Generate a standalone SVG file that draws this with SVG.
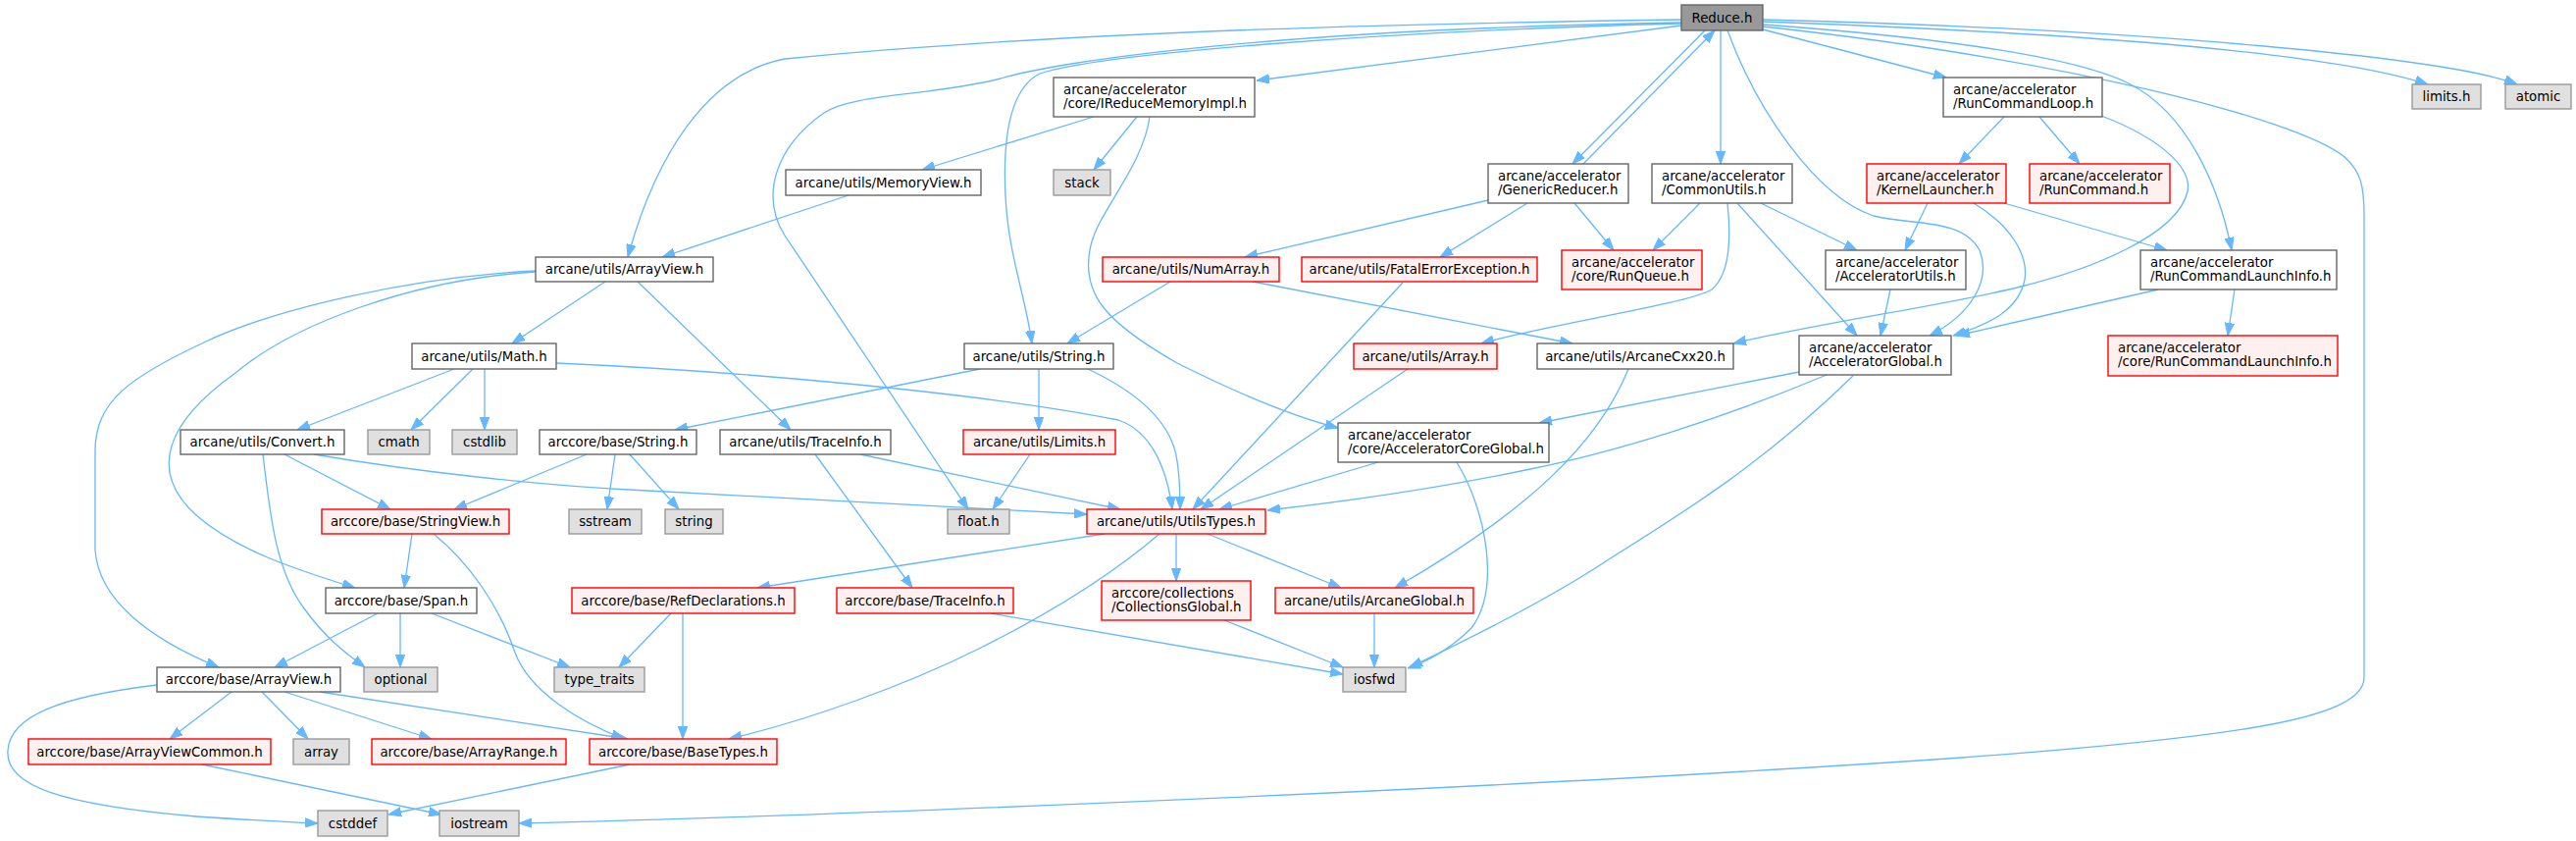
<svg xmlns="http://www.w3.org/2000/svg" width="2626" height="857" viewBox="0 0 2626 857">
<defs>
<style>
text{font-family:"DejaVu Sans","Liberation Sans",sans-serif;font-size:13.33px;fill:#000}
.c{text-anchor:middle}
.n rect{fill:#fff;stroke:#666;stroke-width:1.4}
.r rect{fill:#fff0f0;stroke:#f00;stroke-width:1.4}
.g rect{fill:#e0e0e0;stroke:#999;stroke-width:1.4}
.root rect{fill:#999;stroke:#666;stroke-width:1.4}
#edges path{fill:none;stroke:#63b8ff;stroke-width:1.3;marker-end:url(#ah)}
</style>
<marker id="ah" viewBox="0 0 13 10" refX="13" refY="5" markerWidth="13" markerHeight="10" markerUnits="userSpaceOnUse" orient="auto"><path d="M0,0.3 L13,5 L0,9.7z" fill="#63b8ff" stroke="#63b8ff" stroke-width="1"/></marker>
</defs>
<rect width="2626" height="857" fill="#fff"/>
<g id="edges">
<path d="M1714,20 C1500,23 1100,30 800,60 C720,75 668,160 640,262"/>
<path d="M1714,26 L1281,82"/>
<path d="M1714,23 C1300,30 1080,62 1020,80 C950,98 870,95 840,115 C790,150 775,200 800,240 L987,519"/>
<path d="M1714,24 C1400,32 1120,55 1060,75 C1030,90 1022,140 1025,200 C1028,260 1045,300 1052,350"/>
<path d="M1797,27 C2100,60 2340,120 2390,160 C2407,175 2410,190 2410,220 L2410,690 C2410,730 2300,750 2000,772 C1600,800 900,830 529,839"/>
<path d="M1797,30 L1984,79"/>
<path d="M1797,22 C2150,35 2380,55 2475,86"/>
<path d="M1797,20 C2200,30 2500,60 2566,86"/>
<path d="M1797,25 C2000,40 2120,60 2170,85 C2230,115 2262,190 2275,255"/>
<path d="M1761,31 C1790,110 1850,200 1910,220 C1950,230 2000,222 2018,255 C2030,285 2010,320 1967,342"/>
<path d="M1738,31 L1603,167"/>
<path d="M1614,167 L1748,31"/>
<path d="M1754,31 L1754,167"/>
<path d="M1115,119 L940,173"/>
<path d="M1159,119 L1115,173"/>
<path d="M1172,119 C1165,170 1120,215 1112,250 C1100,300 1130,330 1200,370 C1260,400 1320,425 1364,436"/>
<path d="M865,199 L675,262"/>
<path d="M2043,119 L1997,167"/>
<path d="M2079,119 L2120,167"/>
<path d="M2142,118 C2200,140 2235,170 2230,195 C2220,240 2130,275 2060,292 C2000,308 1850,330 1767,350"/>
<path d="M1965,207 L1942,255"/>
<path d="M2043,207 L2209,255"/>
<path d="M2012,207 C2050,230 2068,260 2064,285 C2058,315 2030,330 1991,342"/>
<path d="M1795,207 L1893,255"/>
<path d="M1733,207 L1685,255"/>
<path d="M1771,207 L1893,342"/>
<path d="M1761,207 C1765,245 1763,280 1745,295 C1720,310 1580,330 1510,350"/>
<path d="M1517,204 L1269,262"/>
<path d="M1557,207 L1468,262"/>
<path d="M1605,207 L1645,255"/>
<path d="M2278,295 L2271,342"/>
<path d="M2200,295 L1995,342"/>
<path d="M1193,287 L1088,350"/>
<path d="M1277,287 L1603,350"/>
<path d="M1430,288 L1216,519"/>
<path d="M1927,295 L1917,342"/>
<path d="M617,287 L522,350"/>
<path d="M650,287 L806,438"/>
<path d="M546,277 C420,285 300,330 240,380 C170,430 150,480 200,525 C240,560 300,580 362,599"/>
<path d="M546,276 C420,282 280,315 210,348 C130,385 97,410 97,460 L97,560 C100,610 150,650 223,680"/>
<path d="M463,376 L303,438"/>
<path d="M482,376 L419,438"/>
<path d="M494,376 L494,438"/>
<path d="M567,370 C750,378 1000,400 1140,428 C1175,440 1190,480 1195,519"/>
<path d="M999,376 L688,438"/>
<path d="M1059,376 L1059,438"/>
<path d="M1109,376 C1160,400 1195,430 1200,470 C1203,490 1203,505 1203,519"/>
<path d="M1435,376 L1224,519"/>
<path d="M1660,376 C1630,450 1560,520 1422,599"/>
<path d="M1834,379 L1569,431"/>
<path d="M1862,382 C1760,425 1650,460 1560,478 C1480,495 1380,510 1292,520"/>
<path d="M1889,383 C1800,470 1720,520 1640,570 C1580,610 1500,650 1437,680"/>
<path d="M1405,471 L1243,519"/>
<path d="M1485,471 C1515,520 1530,600 1500,640 C1480,660 1460,672 1435,681"/>
<path d="M290,463 L398,519"/>
<path d="M268,463 C275,520 280,580 310,620 C330,648 350,664 372,680"/>
<path d="M320,463 C420,480 550,495 660,500 C800,508 950,516 1108,524"/>
<path d="M598,463 L463,519"/>
<path d="M627,463 L619,519"/>
<path d="M642,463 L692,519"/>
<path d="M877,463 L1142,519"/>
<path d="M831,463 L930,599"/>
<path d="M1050,463 L1012,519"/>
<path d="M420,544 L412,599"/>
<path d="M442,544 C480,575 510,620 525,665 C540,705 590,735 636,753"/>
<path d="M1126,544 L772,599"/>
<path d="M1199,544 L1199,592"/>
<path d="M1231,544 L1367,599"/>
<path d="M1182,544 C1140,580 1080,620 1000,660 C920,700 820,735 743,753"/>
<path d="M684,625 L631,680"/>
<path d="M696,625 L696,753"/>
<path d="M1010,625 L1369,687"/>
<path d="M1248,632 L1369,680"/>
<path d="M1401,625 L1401,680"/>
<path d="M385,625 L280,680"/>
<path d="M408,625 L408,680"/>
<path d="M440,625 L581,680"/>
<path d="M236,705 L173,753"/>
<path d="M267,705 L314,753"/>
<path d="M290,705 L440,753"/>
<path d="M326,705 L640,753"/>
<path d="M160,698 C60,710 10,730 8,765 C5,800 60,820 200,832 C260,836 300,838 324,839"/>
<path d="M206,779 L450,830"/>
<path d="M642,779 L396,830"/>
</g>
<g id="n_reduce" class="root"><rect x="1714" y="5" width="83" height="26"/><text class="c" x="1755.5" y="22.5">Reduce.h</text></g>
<g id="n_ireduce" class="n"><rect x="1074" y="79" width="205" height="40"/><text x="1084" y="96">arcane/accelerator</text><text x="1084" y="110">/core/IReduceMemoryImpl.h</text></g>
<g id="n_runcmdloop" class="n"><rect x="1981" y="79" width="162" height="40"/><text x="1991" y="96">arcane/accelerator</text><text x="1991" y="110">/RunCommandLoop.h</text></g>
<g id="n_limits" class="g"><rect x="2459" y="86" width="70" height="25"/><text class="c" x="2494" y="103">limits.h</text></g>
<g id="n_atomic" class="g"><rect x="2554" y="86" width="67" height="25"/><text class="c" x="2587.5" y="103">atomic</text></g>
<g id="n_memview" class="n"><rect x="801" y="173" width="199" height="26"/><text class="c" x="900.5" y="190.5">arcane/utils/MemoryView.h</text></g>
<g id="n_stack" class="g"><rect x="1074" y="173" width="58" height="26"/><text class="c" x="1103" y="190.5">stack</text></g>
<g id="n_genred" class="n"><rect x="1517" y="167" width="143" height="40"/><text x="1527" y="184">arcane/accelerator</text><text x="1527" y="198">/GenericReducer.h</text></g>
<g id="n_commonutils" class="n"><rect x="1684" y="167" width="143" height="40"/><text x="1694" y="184">arcane/accelerator</text><text x="1694" y="198">/CommonUtils.h</text></g>
<g id="n_kernel" class="r"><rect x="1903" y="167" width="142" height="40"/><text x="1913" y="184">arcane/accelerator</text><text x="1913" y="198">/KernelLauncher.h</text></g>
<g id="n_runcmd" class="r"><rect x="2069" y="167" width="143" height="40"/><text x="2079" y="184">arcane/accelerator</text><text x="2079" y="198">/RunCommand.h</text></g>
<g id="n_arrayview" class="n"><rect x="546" y="262" width="181" height="25"/><text class="c" x="636.5" y="279">arcane/utils/ArrayView.h</text></g>
<g id="n_numarray" class="r"><rect x="1124" y="262" width="180" height="25"/><text class="c" x="1214" y="279">arcane/utils/NumArray.h</text></g>
<g id="n_fatal" class="r"><rect x="1327" y="262" width="240" height="25"/><text class="c" x="1447" y="279">arcane/utils/FatalErrorException.h</text></g>
<g id="n_runqueue" class="r"><rect x="1592" y="255" width="143" height="40"/><text x="1602" y="272">arcane/accelerator</text><text x="1602" y="286">/core/RunQueue.h</text></g>
<g id="n_accutils" class="n"><rect x="1861" y="255" width="143" height="40"/><text x="1871" y="272">arcane/accelerator</text><text x="1871" y="286">/AcceleratorUtils.h</text></g>
<g id="n_rcli" class="n"><rect x="2182" y="255" width="200" height="40"/><text x="2192" y="272">arcane/accelerator</text><text x="2192" y="286">/RunCommandLaunchInfo.h</text></g>
<g id="n_math" class="n"><rect x="420" y="350" width="147" height="26"/><text class="c" x="493.5" y="367.5">arcane/utils/Math.h</text></g>
<g id="n_string" class="n"><rect x="983" y="350" width="152" height="26"/><text class="c" x="1059" y="367.5">arcane/utils/String.h</text></g>
<g id="n_array" class="r"><rect x="1380" y="350" width="146" height="26"/><text class="c" x="1453" y="367.5">arcane/utils/Array.h</text></g>
<g id="n_cxx20" class="n"><rect x="1567" y="350" width="200" height="26"/><text class="c" x="1667" y="367.5">arcane/utils/ArcaneCxx20.h</text></g>
<g id="n_accglobal" class="n"><rect x="1834" y="342" width="155" height="40"/><text x="1844" y="359">arcane/accelerator</text><text x="1844" y="373">/AcceleratorGlobal.h</text></g>
<g id="n_corercli" class="r"><rect x="2149" y="342" width="234" height="41"/><text x="2159" y="359">arcane/accelerator</text><text x="2159" y="373">/core/RunCommandLaunchInfo.h</text></g>
<g id="n_convert" class="n"><rect x="184" y="438" width="167" height="25"/><text class="c" x="267.5" y="455">arcane/utils/Convert.h</text></g>
<g id="n_cmath" class="g"><rect x="375" y="438" width="63" height="25"/><text class="c" x="406.5" y="455">cmath</text></g>
<g id="n_cstdlib" class="g"><rect x="461" y="438" width="66" height="25"/><text class="c" x="494" y="455">cstdlib</text></g>
<g id="n_acstring" class="n"><rect x="550" y="438" width="160" height="25"/><text class="c" x="630" y="455">arccore/base/String.h</text></g>
<g id="n_traceinfo" class="n"><rect x="734" y="438" width="174" height="25"/><text class="c" x="821" y="455">arcane/utils/TraceInfo.h</text></g>
<g id="n_limitsh" class="r"><rect x="982" y="438" width="155" height="25"/><text class="c" x="1059.5" y="455">arcane/utils/Limits.h</text></g>
<g id="n_acccore" class="n"><rect x="1364" y="431" width="215" height="40"/><text x="1374" y="448">arcane/accelerator</text><text x="1374" y="462">/core/AcceleratorCoreGlobal.h</text></g>
<g id="n_strview" class="r"><rect x="328" y="519" width="191" height="25"/><text class="c" x="423.5" y="536">arccore/base/StringView.h</text></g>
<g id="n_sstream" class="g"><rect x="580" y="519" width="74" height="25"/><text class="c" x="617" y="536">sstream</text></g>
<g id="n_stringstd" class="g"><rect x="678" y="519" width="59" height="25"/><text class="c" x="707.5" y="536">string</text></g>
<g id="n_float" class="g"><rect x="966" y="519" width="63" height="25"/><text class="c" x="997.5" y="536">float.h</text></g>
<g id="n_utilstypes" class="r"><rect x="1108" y="519" width="182" height="25"/><text class="c" x="1199" y="536">arcane/utils/UtilsTypes.h</text></g>
<g id="n_span" class="n"><rect x="332" y="599" width="154" height="26"/><text class="c" x="409" y="616.5">arccore/base/Span.h</text></g>
<g id="n_refdecl" class="r"><rect x="583" y="599" width="227" height="26"/><text class="c" x="696.5" y="616.5">arccore/base/RefDeclarations.h</text></g>
<g id="n_actrace" class="r"><rect x="853" y="599" width="180" height="26"/><text class="c" x="943" y="616.5">arccore/base/TraceInfo.h</text></g>
<g id="n_collglobal" class="r"><rect x="1123" y="592" width="152" height="40"/><text x="1133" y="609">arccore/collections</text><text x="1133" y="623">/CollectionsGlobal.h</text></g>
<g id="n_arcglobal" class="r"><rect x="1300" y="599" width="202" height="26"/><text class="c" x="1401" y="616.5">arcane/utils/ArcaneGlobal.h</text></g>
<g id="n_acarrayview" class="n"><rect x="160" y="680" width="187" height="25"/><text class="c" x="253.5" y="697">arccore/base/ArrayView.h</text></g>
<g id="n_optional" class="g"><rect x="371" y="680" width="75" height="25"/><text class="c" x="408.5" y="697">optional</text></g>
<g id="n_typetraits" class="g"><rect x="565" y="680" width="92" height="25"/><text class="c" x="611" y="697">type_traits</text></g>
<g id="n_iosfwd" class="g"><rect x="1369" y="680" width="64" height="25"/><text class="c" x="1401" y="697">iosfwd</text></g>
<g id="n_avcommon" class="r"><rect x="29" y="753" width="247" height="26"/><text class="c" x="152.5" y="770.5">arccore/base/ArrayViewCommon.h</text></g>
<g id="n_arraystd" class="g"><rect x="299" y="753" width="57" height="26"/><text class="c" x="327.5" y="770.5">array</text></g>
<g id="n_arrayrange" class="r"><rect x="379" y="753" width="198" height="26"/><text class="c" x="478" y="770.5">arccore/base/ArrayRange.h</text></g>
<g id="n_basetypes" class="r"><rect x="601" y="753" width="191" height="26"/><text class="c" x="696.5" y="770.5">arccore/base/BaseTypes.h</text></g>
<g id="n_cstddef" class="g"><rect x="324" y="826" width="71" height="26"/><text class="c" x="359.5" y="843.5">cstddef</text></g>
<g id="n_iostream" class="g"><rect x="448" y="826" width="81" height="26"/><text class="c" x="488.5" y="843.5">iostream</text></g>
</svg>
